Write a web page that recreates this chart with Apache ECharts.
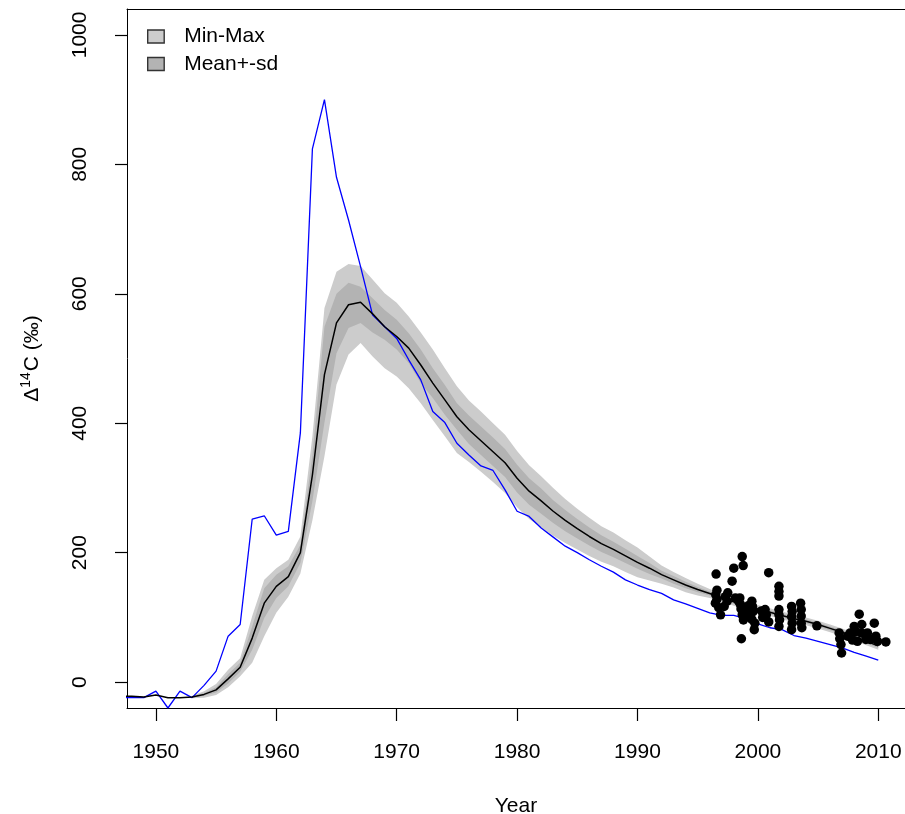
<!DOCTYPE html>
<html><head><meta charset="utf-8">
<script src="https://cdn.jsdelivr.net/npm/echarts@6/dist/echarts.min.js"></script>
<style>html,body{margin:0;padding:0;background:#fff}#c{width:905px;height:814px}</style>
</head><body><div id="c"></div>
<script>
// ---- data ----
const years = [1947,1948,1949,1950,1951,1952,1953,1954,1955,1956,1957,1958,1959,1960,1961,1962,1963,1964,1965,1966,1967,1968,1969,1970,1971,1972,1973,1974,1975,1976,1977,1978,1979,1980,1981,1982,1983,1984,1985,1986,1987,1988,1989,1990,1991,1992,1993,1994,1995,1996,1997,1998,1999,2000,2001,2002,2003,2004,2005,2006,2007,2008,2009,2010];
const atmosphere = [-24,-24,-24,-14,-40,-14,-24,-5,17,71,89,252,257,227,233,385,824,900,780,714,642,567,549,531,498,467,418,401,369,351,334,327,297,264,256,238,224,210,200,189,179,170,158,150,143,137,127,121,114,107,103,103,98,90,84,81,72,68,63,58,53,46,40,34];
const meanCurve = [-22,-22,-23,-20,-24,-24,-23,-19,-12,5,23,68,122,148,163,200,320,475,555,583,587,569,549,534,516,490,462,436,410,390,373,356,339,315,295,280,264,250,237,225,214,205,195,185,176,166,158,150,143,137,130,124,118,113,108,103,98,94,89,83,77,70,63,56];
const bandYears = [1953,1954,1955,1956,1957,1958,1959,1960,1961,1962,1963,1964,1965,1966,1967,1968,1969,1970,1971,1972,1973,1974,1975,1976,1977,1978,1979,1980,1981,1982,1983,1984,1985,1986,1987,1988,1989,1990,1991,1992,1993,1994,1995,1996,1997,1998,1999,2000,2001,2002,2003,2004,2005,2006,2007,2008,2009,2010];
const bandMax  = [-21,-14,-3,19,37,102,158,176,189,225,380,578,634,646,643,622,601,586,565,540,514,485,457,435,418,400,382,357,335,318,300,283,268,254,241,231,219,208,194,180,170,161,152,144,137,130,124,119,114,109,104,100,95,89,83,76,69,62];
const bandSdHi = [-22,-17,-8,12,30,86,145,166,179,212,350,549,600,617,611,593,575,560,539,514,485,459,431,412,395,378,360,336,315,299,281,266,252,239,227,217,206,195,184,172,164,155,147,140,133,127,121,116,111,106,101,97,92,86,80,73,66,59];
const bandSdLo = [-24,-21,-16,-2,16,50,99,130,148,184,280,401,508,547,555,540,529,514,493,462,439,413,390,368,351,334,317,293,274,260,246,233,222,211,201,193,184,175,167,160,152,145,139,134,127,121,115,110,105,100,95,91,86,80,74,67,60,53];
const bandMin  = [-25,-24,-20,-8,9,30,71,107,132,168,250,349,460,506,524,503,485,472,454,431,405,380,354,340,325,309,292,270,252,239,226,215,205,195,186,179,170,162,157,152,146,139,134,130,124,118,112,107,102,97,92,88,83,77,71,64,57,50];
const obsYear = [1996.53,1996.6,1996.5,1996.47,1996.6,1996.75,1996.9,1997.2,1997.45,1997.5,1997.3,1997.86,1998.0,1998.7,1998.78,1998.13,1998.5,1998.55,1998.6,1998.7,1998.8,1999.0,1998.4,1998.63,1999.5,1999.55,1999.6,1999.5,1999.75,1999.7,1999.2,1999.1,2000.3,2000.4,2000.6,2000.7,2000.9,2000.9,2001.75,2001.75,2001.75,2001.75,2001.75,2001.8,2001.75,2002.8,2002.85,2002.8,2002.85,2002.8,2003.55,2003.6,2003.6,2003.6,2003.65,2004.9,2006.75,2006.8,2006.9,2006.95,2007.45,2007.67,2007.86,2008.0,2008.13,2008.42,2008.63,2008.6,2008.97,2009.1,2009.67,2009.33,2009.8,2009.94,2010.63,2008.27];
const obsVal  = [167,142,135,122,128,115,104,117,125,138,132,156,176,194,180,130,130,120,113,104,96,109,125,67,125,117,109,97,91,81,118,102,110,100,112,104,93,169,148,140,133,112,104,96,86,117,109,101,91,81,122,112,102,91,84,87,76,67,58,45,71,76,65,86,78,105,89,76,66,76,91,66,71,63,62,63];
const xTicks = [1950,1960,1970,1980,1990,2000,2010];
const yTicks = [0,200,400,600,800,1000];

// ---- chart ----
const FONT = "'Liberation Sans', Arial, Helvetica, sans-serif";
const chart = echarts.init(document.getElementById('c'), null, {renderer: 'canvas'});

function band(name, upper, lower, color, z) {
  return {
    type: 'custom', name: name, coordinateSystem: 'cartesian2d', z: z, silent: true, clip: true,
    itemStyle: {color: color},
    data: [[bandYears[0], upper[0]]],
    encode: {x: 0, y: 1},
    renderItem: function (params, api) {
      const pts = [];
      for (let i = 0; i < bandYears.length; i++) pts.push(api.coord([bandYears[i], upper[i]]));
      for (let i = bandYears.length - 1; i >= 0; i--) pts.push(api.coord([bandYears[i], lower[i]]));
      return {type: 'polygon', shape: {points: pts}, style: {fill: color, stroke: null}};
    }
  };
}
const plain = v => String(v);
const XMIN = 1947.6, XMAX = 2012.22, YMIN = -40, YMAX = 1040;

chart.setOption({
  animation: false,
  backgroundColor: '#fff',
  textStyle: {fontFamily: FONT},
  grid: {left: 127, right: 0, top: 9, bottom: 106, show: false, containLabel: false, outerBoundsMode: 'none'},
  legend: {
    orient: 'vertical', left: 147, top: 26, padding: 0, itemGap: 6.5,
    itemWidth: 16.5, itemHeight: 13, selectedMode: false,
    textStyle: {fontSize: 21, color: '#000', fontFamily: FONT, lineHeight: 20, padding: [0, 0, 0, 15]},
    data: [
      {name: 'Min-Max', icon: 'rect', itemStyle: {color: '#cccccc', borderColor: '#333', borderWidth: 1.4}},
      {name: 'Mean+-sd', icon: 'rect', itemStyle: {color: '#b3b3b3', borderColor: '#333', borderWidth: 1.4}}
    ]
  },
  xAxis: [{
    type: 'value', min: XMIN, max: XMAX, position: 'bottom',
    name: 'Year', nameLocation: 'middle', nameGap: 88,
    nameTextStyle: {fontSize: 21, color: '#000', fontFamily: FONT, lineHeight: 21},
    axisLine: {show: true, onZero: false, lineStyle: {color: '#000', width: 1}},
    axisTick: {show: true, inside: false, length: 13, lineStyle: {color: '#000', width: 1.2}, customValues: xTicks},
    axisLabel: {show: true, fontSize: 21, color: '#000', fontFamily: FONT, margin: 34, lineHeight: 21, customValues: xTicks, formatter: plain},
    splitLine: {show: false}
  }, {
    type: 'value', min: XMIN, max: XMAX, position: 'top',
    axisLine: {show: true, onZero: false, lineStyle: {color: '#000', width: 1}},
    axisTick: {show: false}, axisLabel: {show: false}, splitLine: {show: false}
  }],
  yAxis: {
    type: 'value', min: YMIN, max: YMAX,
    name: '{a|Δ}{sup|14}{a|C (‰)}', nameLocation: 'middle', nameGap: 82,
    nameTextStyle: {
      fontSize: 21, color: '#000', fontFamily: FONT,
      rich: {
        a: {fontSize: 21, fontFamily: FONT, color: '#000', lineHeight: 21},
        sup: {fontSize: 14, fontFamily: FONT, color: '#000', padding: [0, 1, 12, 0]}
      }
    },
    axisLine: {show: true, onZero: false, lineStyle: {color: '#000', width: 1}},
    axisTick: {show: true, inside: false, length: 12, lineStyle: {color: '#000', width: 1.2}, customValues: yTicks},
    axisLabel: {show: true, rotate: 90, fontSize: 21, color: '#000', fontFamily: FONT, margin: 36, lineHeight: 21, customValues: yTicks, formatter: plain},
    splitLine: {show: false}
  },
  series: [
    band('Min-Max', bandMax, bandMin, '#cccccc', 1),
    band('Mean+-sd', bandSdHi, bandSdLo, '#b3b3b3', 2),
    {
      type: 'line', name: 'Atmosphere', z: 3, showSymbol: false, clip: true, silent: true,
      data: years.map((y, i) => [y, atmosphere[i]]),
      lineStyle: {color: '#0000ff', width: 1.3}
    },
    {
      type: 'line', name: 'Mean', z: 4, showSymbol: false, clip: true, silent: true,
      data: years.map((y, i) => [y, meanCurve[i]]),
      lineStyle: {color: '#000', width: 1.5}
    },
    {
      type: 'scatter', name: 'Obs', z: 5, silent: true,
      data: obsYear.map((y, i) => [y, obsVal[i]]),
      symbolSize: 9.5, itemStyle: {color: '#000', opacity: 1}
    }
  ]
});
</script></body></html>
